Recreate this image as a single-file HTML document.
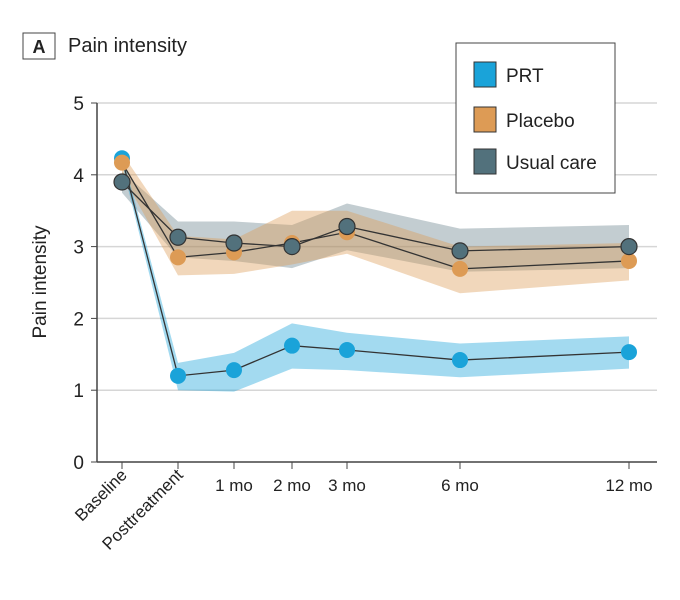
<!DOCTYPE html>
<html><head><meta charset="utf-8"><style>
body{margin:0;background:#fff;font-family:"Liberation Sans",sans-serif}
svg text{font-family:"Liberation Sans",sans-serif;fill:#222}
</style></head><body>
<svg width="680" height="595" id="c">
<rect x="23" y="33" width="32" height="26" fill="#fff" stroke="#444"/>
<text x="39" y="53" text-anchor="middle" font-size="18" font-weight="bold">A</text>
<text x="68" y="52" font-size="20">Pain intensity</text>
<text transform="translate(46,282) rotate(-90)" text-anchor="middle" font-size="19">Pain intensity</text>
<g id="grid"></g><g id="bands"></g><g id="lines"></g>
<g>
<rect x="456" y="43" width="159" height="150" fill="#fff" stroke="#444"/>
<rect x="474" y="62" width="22" height="25" fill="#1aa3d9" stroke="#333"/><text x="506" y="82" font-size="19">PRT</text>
<rect x="474" y="107" width="22" height="25" fill="#dd9b55" stroke="#333"/><text x="506" y="127" font-size="19">Placebo</text>
<rect x="474" y="149" width="22" height="25" fill="#52717c" stroke="#333"/><text x="506" y="169" font-size="19">Usual care</text>
</g>
</svg>
<script>
const categories=["Baseline","Posttreatment","1 mo","2 mo","3 mo","6 mo","12 mo"];
const yTicks=[0,1,2,3,4,5];
const prt=[4.23,1.2,1.28,1.62,1.56,1.42,1.53];
const prtLo=[4.15,1.0,0.98,1.3,1.28,1.18,1.3];
const prtHi=[4.3,1.38,1.52,1.93,1.8,1.65,1.75];
const placebo=[4.17,2.85,2.92,3.05,3.2,2.69,2.8];
const placeboLo=[4.0,2.6,2.62,2.75,2.9,2.35,2.53];
const placeboHi=[4.3,3.15,3.1,3.5,3.5,3.0,3.05];
const usual=[3.9,3.13,3.05,3.0,3.28,2.94,3.0];
const usualLo=[3.75,2.85,2.8,2.7,2.95,2.65,2.7];
const usualHi=[4.05,3.35,3.35,3.3,3.6,3.25,3.3];
const NS="http://www.w3.org/2000/svg";
// categorical x-axis scale (band positions of the axis, not data)
const xAxisSlots=[122,178,234,292,347,460,629];
const xs=i=>xAxisSlots[i];
const ys=v=>462-v*71.8;
function mk(t,a,p){const e=document.createElementNS(NS,t);for(const k in a)e.setAttribute(k,a[k]);document.getElementById(p).appendChild(e);return e;}
yTicks.forEach(v=>{
 const l=mk('line',{x1:97,x2:657,y1:ys(v),y2:ys(v),stroke:v==0?'#444':'#d6d6d6','stroke-width':1.5},'grid');
 
 
 mk('line',{x1:91,x2:97,y1:ys(v),y2:ys(v),stroke:'#444'},'grid');
 const t=mk('text',{x:84,y:ys(v)+7,'text-anchor':'end','font-size':19},'grid');t.textContent=v;
 
 
});
mk('line',{x1:97,x2:97,y1:ys(5),y2:ys(0),stroke:'#444','stroke-width':1.5},'grid');
categories.forEach((c,i)=>{
 const x=xs(i);
 mk('line',{x1:x,x2:x,y1:462,y2:469,stroke:'#444'},'grid');
 let t;
 if(i<2){t=mk('text',{transform:`translate(${x+6},476) rotate(-45)`,'text-anchor':'end','font-size':17},'grid');}
 else{t=mk('text',{x:x,y:491,'text-anchor':'middle','font-size':17},'grid');}
 t.textContent=c;
 
 
});
const series=[
 {n:'usual-care',v:usual,lo:usualLo,hi:usualHi,band:'rgba(82,113,124,0.35)',c:'#52717c',s:'#333'},
 {n:'placebo',v:placebo,lo:placeboLo,hi:placeboHi,band:'rgba(221,155,85,0.4)',c:'#dd9b55',s:'none'},
 {n:'prt',v:prt,lo:prtLo,hi:prtHi,band:'rgba(26,163,217,0.4)',c:'#1aa3d9',s:'none'}];
series.forEach(s=>{
 let d=s.hi.map((v,i)=>(i?'L':'M')+xs(i)+','+ys(v)).join('');
 for(let i=s.lo.length-1;i>=0;i--)d+='L'+xs(i)+','+ys(s.lo[i]);
 const b=mk('path',{d:d+'Z',fill:s.band},'bands');
 
 
});
[series[2],series[1],series[0]].forEach(s=>{
 const l=mk('polyline',{points:s.v.map((v,i)=>xs(i)+','+ys(v)).join(' '),fill:'none',stroke:'#333','stroke-width':1.3},'lines');
 
 
});
[series[2],series[1],series[0]].forEach(s=>{
 s.v.forEach((v,i)=>{
  const p=mk('circle',{cx:xs(i),cy:ys(v),r:8,fill:s.c,stroke:s.s,'stroke-width':1.2},'lines');
  
  
 });
});
</script>
</body></html>
